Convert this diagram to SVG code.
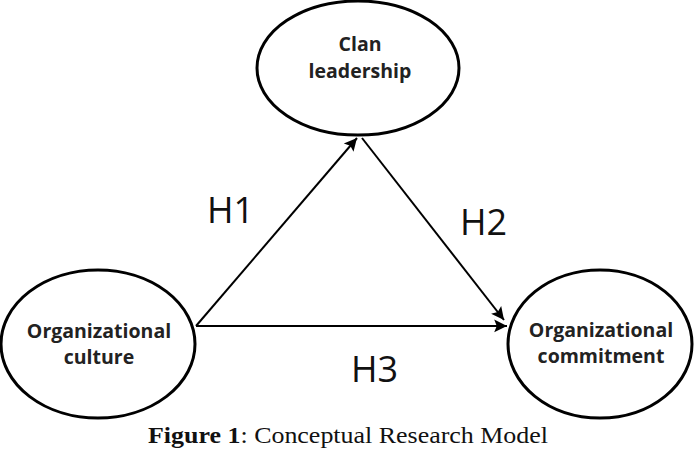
<svg xmlns="http://www.w3.org/2000/svg" width="698" height="450" viewBox="0 0 698 450">
<style>
.node ellipse{fill:#fff;stroke:#000;stroke-width:3}
.lbl{font-family:"Open Sans","DejaVu Sans",sans-serif;font-weight:bold;font-size:19.5px;fill:#222;text-anchor:middle}
.h{font-family:"Open Sans","DejaVu Sans",sans-serif;font-size:36px;fill:#111}
.edge{stroke:#000;stroke-width:2;fill:none;marker-end:url(#arr)}
</style>
<defs>
<marker id="arr" viewBox="0 0 10 10" refX="10" refY="5" markerWidth="8" markerHeight="8" markerUnits="userSpaceOnUse" orient="auto" overflow="visible">
<path d="M0,0 L10,5 L0,10 L2,5 Z" fill="#000" transform="scale(1.6) translate(-3.75,-1.9)"/>
</marker>
</defs>
<rect width="698" height="450" fill="#fff"/>
<g id="connectors">
<line class="edge" x1="196" y1="326" x2="357" y2="138"/>
<line class="edge" x1="362" y1="138" x2="504" y2="320"/>
<line class="edge" x1="196" y1="326" x2="507" y2="326"/>
</g>
<g id="clan-leadership" class="node">
<ellipse cx="358" cy="68" rx="101" ry="67"/>
<text class="lbl" x="360" y="51">Clan</text>
<text class="lbl" x="360" y="78">leadership</text>
</g>
<g id="organizational-culture" class="node">
<ellipse cx="98" cy="344" rx="97" ry="74"/>
<text class="lbl" x="99" y="338">Organizational</text>
<text class="lbl" x="99" y="364">culture</text>
</g>
<g id="organizational-commitment" class="node">
<ellipse cx="600" cy="344" rx="92" ry="74"/>
<text class="lbl" x="601" y="337">Organizational</text>
<text class="lbl" x="601" y="363">commitment</text>
</g>
<g id="labels">
<text class="h" x="207" y="223">H1</text>
<text class="h" x="460" y="235">H2</text>
<text class="h" x="351" y="382">H3</text>
</g>
<text x="148" y="443" font-family="Liberation Serif,serif" font-size="23px" fill="#111" textLength="400" lengthAdjust="spacingAndGlyphs"><tspan font-weight="bold">Figure 1</tspan>: Conceptual Research Model</text>
</svg>
